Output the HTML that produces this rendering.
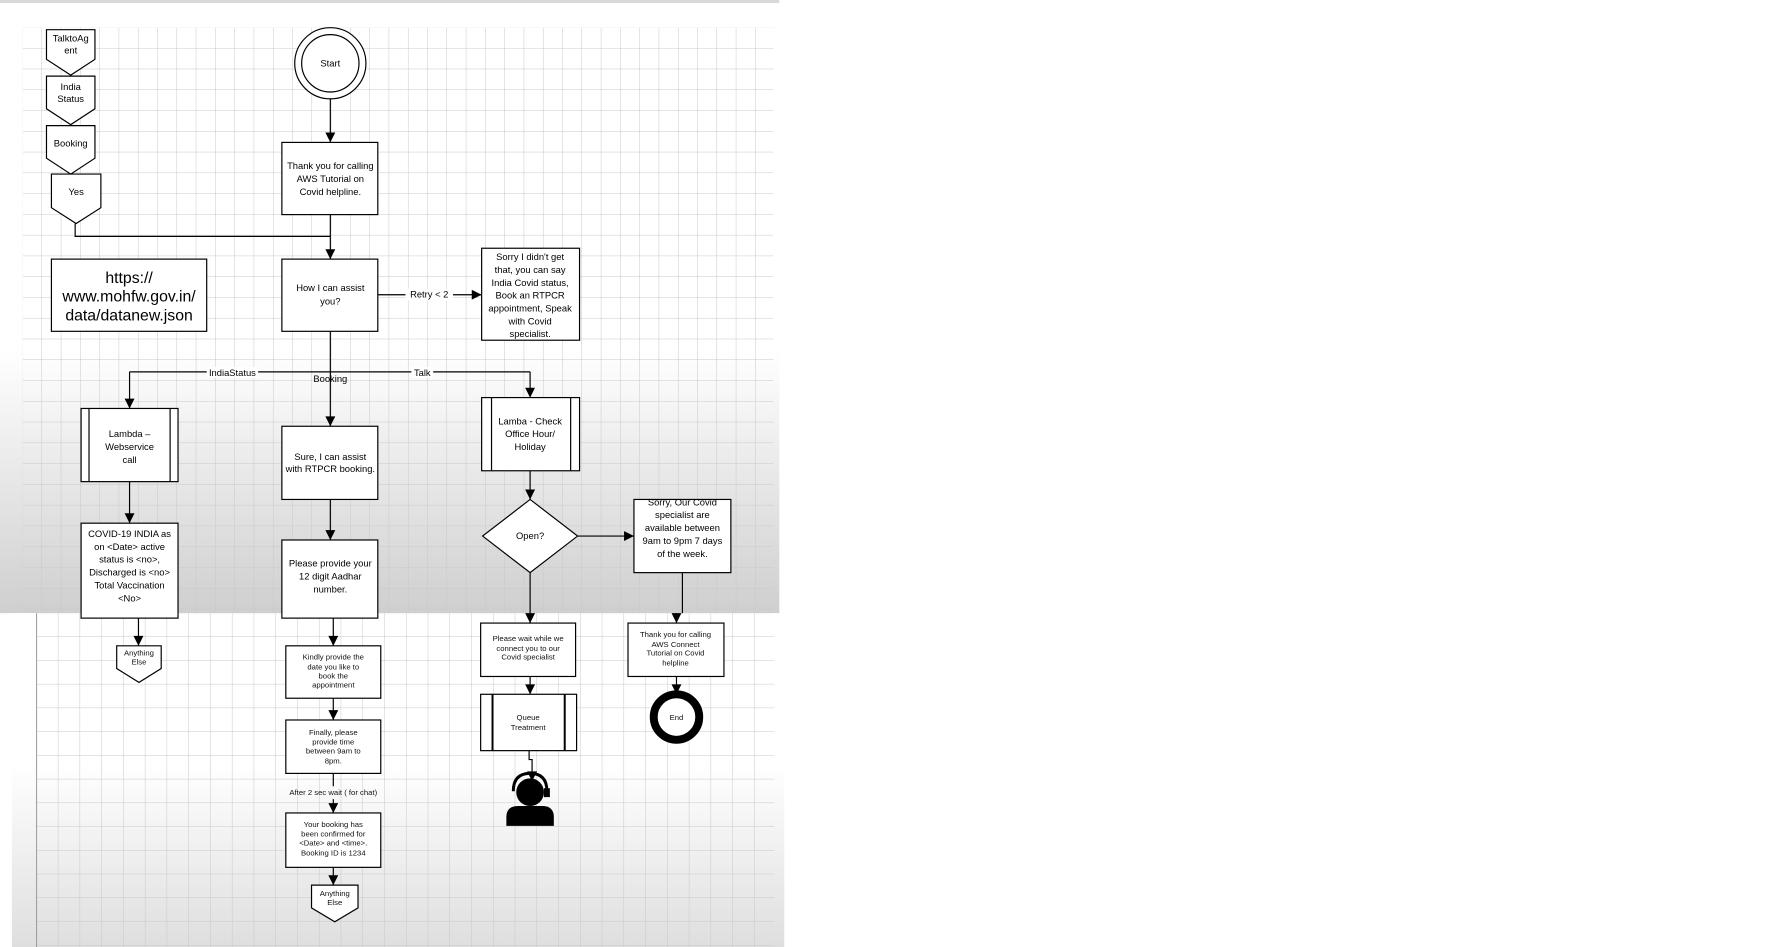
<!DOCTYPE html>
<html><head><meta charset="utf-8"><style>
html,body{margin:0;padding:0;background:#fff;}
svg{display:block;font-family:"Liberation Sans",sans-serif;}
</style></head><body>
<svg width="1790" height="947" viewBox="0 0 1790 947" xmlns="http://www.w3.org/2000/svg">
<defs>
<pattern id="g1" x="23" y="28" width="19.5" height="21" patternUnits="userSpaceOnUse">
<path d="M19.5 0V21M0 21H19.5" stroke="#c8c8c8" stroke-width="1" fill="none"/>
</pattern>
<pattern id="g2" x="37" y="620" width="22" height="24" patternUnits="userSpaceOnUse">
<path d="M22 0V24M0 24H22" stroke="#c8c8c8" stroke-width="1" fill="none"/>
</pattern>
<linearGradient id="f1" x1="0" y1="0" x2="0" y2="1">
<stop offset="0" stop-color="#fff"/><stop offset="0.55" stop-color="#fff"/><stop offset="1" stop-color="#cfcfcf"/>
</linearGradient>
<linearGradient id="f2" x1="0" y1="0" x2="0" y2="1">
<stop offset="0" stop-color="#fff"/><stop offset="0.45" stop-color="#fff"/><stop offset="1" stop-color="#dedede"/>
</linearGradient>
<marker id="b" viewBox="0 0 10 10" refX="10" refY="5" markerWidth="12" markerHeight="10" orient="auto" markerUnits="userSpaceOnUse">
<path d="M0 0L10 5L0 10z" fill="#000"/></marker>
</defs>
<g transform="scale(0.989)">
<rect x="0" y="0" width="788" height="3" fill="#d8d8d8"/>
<rect x="0" y="28" width="788" height="592" fill="url(#f1)"/>
<rect x="23" y="28" width="759" height="592" fill="url(#g1)"/>
<rect x="12" y="620" width="781" height="340" fill="url(#f2)"/>
<rect x="37" y="620" width="746" height="340" fill="url(#g2)"/>
<line x1="37" y1="620" x2="37" y2="960" stroke="#999"/>

<g stroke="#000" stroke-width="1.2" fill="#fff">
<path d="M47 30H96V60L71.5 76L47 60Z"/>
<path d="M47 77H96V110L71.5 126L47 110Z"/>
<path d="M47 127H96V160L71.5 176L47 160Z"/>
<path d="M52 176H102V210L77 226L52 210Z"/>
<circle cx="334" cy="64" r="36"/>
<circle cx="334" cy="64" r="29"/>
<rect x="285" y="144" width="97" height="73"/>
<rect x="285" y="262" width="97" height="73"/>
<rect x="52" y="262" width="157" height="73"/>
<rect x="487" y="251" width="99" height="93"/>
<rect x="82" y="413" width="98" height="74"/><path d="M90 413V487M172 413V487" fill="none"/>
<rect x="285" y="431" width="97" height="74"/>
<rect x="487" y="402" width="99" height="74"/><path d="M497 402V476M577 402V476" fill="none"/>
<path d="M536 505L584 542L536 579L488 542Z"/>
<rect x="641" y="505" width="98" height="74"/>
<rect x="82" y="529" width="98" height="96"/>
<rect x="285" y="546" width="97" height="79"/>
</g>
<g stroke="#000" stroke-width="1.2" fill="none">
<path d="M76 226V239H334"/>
<path d="M334 100V144" marker-end="url(#b)"/>
<path d="M334 217V262" marker-end="url(#b)"/>
<path d="M382 298H487" marker-end="url(#b)"/>
<path d="M334 335V431" marker-end="url(#b)"/>
<path d="M131 376H536"/>
<path d="M131 376V413" marker-end="url(#b)"/>
<path d="M536 376V402" marker-end="url(#b)"/>
<path d="M131 487V529" marker-end="url(#b)"/>
<path d="M334 505V546" marker-end="url(#b)"/>
<path d="M536 476V505" marker-end="url(#b)"/>
<path d="M584 542H641" marker-end="url(#b)"/>
<path d="M536 579V620M690 579V620"/>
</g>
<g stroke="#000" stroke-width="1.2" fill="#fff">
<path d="M118 653H163V676L140.5 690L118 676Z"/>
<rect x="289" y="653" width="96" height="53"/>
<rect x="289" y="728" width="96" height="54"/>
<rect x="289" y="822" width="96" height="55"/>
<path d="M315 895H362V918L338.5 932L315 918Z"/>
<rect x="486" y="630" width="96" height="54"/>
<rect x="486" y="702" width="97" height="57"/><path d="M498 702V759M571 702V759" fill="none" stroke-width="2"/>
<rect x="635" y="630" width="97" height="54"/>
<circle cx="684" cy="725" r="23" stroke-width="8"/>
</g>
<g stroke="#000" stroke-width="1.2" fill="none">
<path d="M140 625V653" marker-end="url(#b)"/>
<path d="M337 625V653" marker-end="url(#b)"/>
<path d="M337 706V728" marker-end="url(#b)"/>
<path d="M337 782V795M337 808V822" marker-end="url(#b)"/>
<path d="M337 877V895" marker-end="url(#b)"/>
<path d="M536 620V630" marker-end="url(#b)"/>
<path d="M536 684V702" marker-end="url(#b)"/>
<path d="M535 759V768H538V790" marker-end="url(#b)"/>
<path d="M684 620V630" marker-end="url(#b)"/>
<path d="M684 684V702" marker-end="url(#b)"/>
</g>
<g fill="#000">
<circle cx="536" cy="801" r="14"/>
<path d="M512 835V826Q512 815 524 815H548Q560 815 560 826V835Z"/>
<path d="M519 800Q519 782 536 782Q553 782 553 800" fill="none" stroke="#000" stroke-width="3"/>
<rect x="550" y="797" width="6" height="9"/>
</g>
<g font-size="9.5" text-anchor="middle" fill="#000">
<rect x="410" y="292" width="48" height="12" fill="#fff"/>
<text x="434" y="301">Retry &lt; 2</text>
<rect x="209" y="371" width="52" height="11" fill="#fff"/>
<text x="235" y="380">IndiaStatus</text>
<rect x="416" y="371" width="22" height="11" fill="#fff"/>
<text x="427" y="380">Talk</text>
<text x="334" y="386">Booking</text>
</g>
<g font-size="9.5" text-anchor="middle" fill="#000">
<text x="71.5" y="42">TalktoAg</text><text x="71.5" y="54">ent</text>
<text x="71.5" y="91">India</text><text x="71.5" y="103">Status</text>
<text x="71.5" y="148">Booking</text>
<text x="77" y="197">Yes</text>
<text x="334" y="67">Start</text>
<text x="334" y="171">Thank you for calling</text><text x="334" y="184">AWS Tutorial on</text><text x="334" y="197">Covid helpline.</text>
<text x="334" y="294">How I can assist</text><text x="334" y="308">you?</text>
<text x="536" y="263">Sorry I didn't get</text><text x="536" y="276">that, you can say</text><text x="536" y="289">India Covid status,</text><text x="536" y="302">Book an RTPCR</text><text x="536" y="315">appointment, Speak</text><text x="536" y="328">with Covid</text><text x="536" y="341">specialist.</text>
<text x="131" y="442">Lambda –</text><text x="131" y="455">Webservice</text><text x="131" y="468">call</text>
<text x="334" y="465">Sure, I can assist</text><text x="334" y="477">with RTPCR booking.</text>
<text x="536" y="429">Lamba - Check</text><text x="536" y="442">Office Hour/</text><text x="536" y="455">Holiday</text>
<text x="536" y="545">Open?</text>
<text x="690" y="511">Sorry, Our Covid</text><text x="690" y="524">specialist are</text><text x="690" y="537">available between</text><text x="690" y="550">9am to 9pm 7 days</text><text x="690" y="563">of the week.</text>
<text x="131" y="543">COVID-19 INDIA as</text><text x="131" y="556">on &lt;Date&gt; active</text><text x="131" y="569">status is &lt;no&gt;,</text><text x="131" y="582">Discharged is &lt;no&gt;</text><text x="131" y="595">Total Vaccination</text><text x="131" y="608">&lt;No&gt;</text>
<text x="334" y="573">Please provide your</text><text x="334" y="586">12 digit Aadhar</text><text x="334" y="599">number.</text>
</g>
<text x="130.5" y="286" font-size="16" text-anchor="middle">https://</text>
<text x="130.5" y="305" font-size="16" text-anchor="middle">www.mohfw.gov.in/</text>
<text x="130.5" y="324" font-size="16" text-anchor="middle">data/datanew.json</text>
<g font-size="7.8" text-anchor="middle" fill="#111">
<text x="140.5" y="663">Anything</text><text x="140.5" y="672">Else</text>
<text x="337" y="667">Kindly provide the</text><text x="337" y="677">date you like to</text><text x="337" y="686">book the</text><text x="337" y="695">appointment</text>
<text x="337" y="743">Finally, please</text><text x="337" y="753">provide time</text><text x="337" y="762">between 9am to</text><text x="337" y="772">8pm.</text>
<text x="337" y="804">After 2 sec wait ( for chat)</text>
<text x="337" y="836">Your booking has</text><text x="337" y="846">been confirmed for</text><text x="337" y="855">&lt;Date&gt; and &lt;time&gt;.</text><text x="337" y="865">Booking ID is 1234</text>
<text x="338.5" y="906">Anything</text><text x="338.5" y="915">Else</text>
<text x="534" y="648">Please wait while we</text><text x="534" y="658">connect you to our</text><text x="534" y="667">Covid specialist</text>
<text x="534" y="728">Queue</text><text x="534" y="738">Treatment</text>
<text x="683" y="644">Thank you for calling</text><text x="683" y="654">AWS Connect</text><text x="683" y="663">Tutorial on Covid</text><text x="683" y="673">helpline</text>
<text x="684" y="728">End</text>
</g>
</g>
</svg>
</body></html>
